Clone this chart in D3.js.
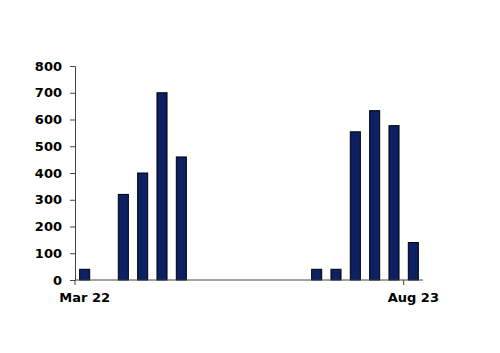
<!DOCTYPE html>
<html><head><meta charset="utf-8">
<script src="https://cdn.jsdelivr.net/npm/d3@7"></script>
<style>body{margin:0;background:#fff}svg{display:block}</style>
</head><body>
<svg id="c" width="500" height="353"></svg>
<script>
const months = ["Mar 22","Apr 22","May 22","Jun 22","Jul 22","Aug 22","Sep 22","Oct 22","Nov 22","Dec 22","Jan 23","Feb 23","Mar 23","Apr 23","May 23","Jun 23","Jul 23","Aug 23"];
const values = [40,0,320,400,700,460,0,0,0,0,0,0,40,40,554,633,577,140];
const yTicks = [0,100,200,300,400,500,600,700,800];
const xLabels = ["Mar 22","Aug 23"];

const svg = d3.select("#c");
const L = 75, R = 423, T = 66, B = 280;
const x = d3.scaleBand().domain(months).range([L, R]).paddingInner(0.48).paddingOuter(0.24);
const xb = d3.scaleBand().domain(months).range([L, R]);
const y = d3.scaleLinear().domain([0, 800]).range([B, T]);
const font = "'DejaVu Sans', Verdana, sans-serif";

svg.append("g").selectAll("rect").data(months.map((m,i)=>({m, v: values[i]})).filter(d=>d.v>0))
  .join("rect")
  .attr("x", d => x(d.m)).attr("width", x.bandwidth())
  .attr("y", d => y(d.v)).attr("height", d => B - y(d.v))
  .attr("fill", "#0c2163").attr("stroke", "#000").attr("stroke-width", 1);

// y axis
const ya = svg.append("g").attr("transform", `translate(${L},0)`)
  .call(d3.axisLeft(y).tickValues(yTicks).tickSize(5).tickPadding(8));
ya.select(".domain").attr("stroke", "#444");
ya.selectAll(".tick line").attr("stroke", "#444");
ya.selectAll("text").attr("font-family", font).attr("font-weight", "bold").attr("font-size", 13).attr("fill", "#000");

// x axis
const xa = svg.append("g").attr("transform", `translate(0,${B})`);
xa.append("line").attr("x1", L).attr("x2", R).attr("stroke", "#444");
xa.selectAll("line.t").data(xLabels).join("line").attr("class","t")
  .attr("x1", d => xb(d)).attr("x2", d => xb(d)).attr("y1", 0).attr("y2", 5).attr("stroke", "#444");
xa.selectAll("text").data(xLabels).join("text")
  .attr("x", d => xb(d) + xb.bandwidth()/2).attr("y", 22)
  .attr("text-anchor", "middle")
  .attr("font-family", font).attr("font-weight", "bold").attr("font-size", 13).attr("fill", "#000")
  .text(d => d);
</script>
</body></html>
